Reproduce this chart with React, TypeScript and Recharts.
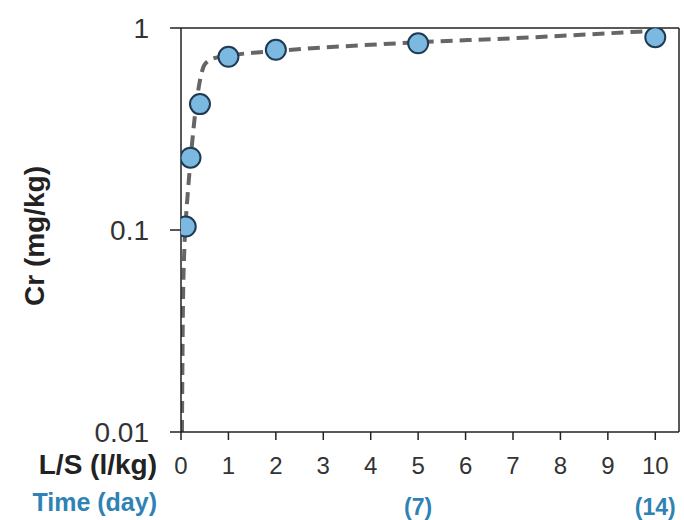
import { ComposedChart, Line, ReferenceLine, Scatter, XAxis, YAxis } from "recharts";

// measured points: L/S ratio (l/kg) vs cumulative Cr release (mg/kg)
const lsPoints = [0.1, 0.2, 0.4, 1, 2, 5, 10];
const crPoints = [0.104, 0.228, 0.42, 0.72, 0.78, 0.84, 0.9];

// fitted (dashed) curve
const lsCurve = [0.02, 0.04, 0.07, 0.1, 0.15, 0.2, 0.3, 0.4, 0.5, 0.7, 1, 2, 3, 5, 7, 10];
const crCurve = [0.01, 0.04, 0.08, 0.11, 0.16, 0.22, 0.38, 0.55, 0.66, 0.71, 0.73, 0.77, 0.8, 0.85, 0.89, 0.97];

const xTicks = [0, 1, 2, 3, 4, 5, 6, 7, 8, 9, 10];
const yTicks = [0.01, 0.1, 1];
const dayAt = [5, 10];
const dayLabels = ["(7)", "(14)"];

const points = lsPoints.map((x, i) => ({ x, y: crPoints[i] }));
const curve = lsCurve.map((x, i) => ({ x, y: crCurve[i] }));

const BLUE = "#2e82b4";
const FONT = "Liberation Sans, Arial, sans-serif";
const X_MAX = 10.5;

const XTick = (props: any) => {
  const { x, y, payload } = props;
  const idx = dayAt.indexOf(payload.value);
  return (
    <g>
      <text x={x} y={y} dy={32} textAnchor="middle" fontSize={24} fill="#333" fontFamily={FONT}>
        {payload.value}
      </text>
      {idx >= 0 && (
        <text x={x} y={y} dy={73} textAnchor="middle" fontSize={23} fontWeight="bold" fill={BLUE} fontFamily={FONT}>
          {dayLabels[idx]}
        </text>
      )}
    </g>
  );
};

const YTick = (props: any) => {
  const { y, payload } = props;
  return (
    <text x={149} y={y} dy={10} textAnchor="end" fontSize={28} fill="#333" fontFamily={FONT}>
      {String(payload.value)}
    </text>
  );
};

const XLabels = (props: any) => {
  const { viewBox } = props;
  const left = viewBox.x;
  const top = viewBox.y;
  return (
    <g>
      <text x={left - 24} y={top + 42} textAnchor="end" fontSize={28} fontWeight="bold" fill="#222" fontFamily={FONT}>
        L/S (l/kg)
      </text>
      <text x={left - 24} y={top + 79} textAnchor="end" fontSize={25} fontWeight="bold" fill={BLUE} fontFamily={FONT}>
        Time (day)
      </text>
    </g>
  );
};

const YLabel = () => (
  <text
    x={44}
    y={236}
    transform="rotate(-90, 44, 236)"
    textAnchor="middle"
    fontSize={28}
    fontWeight="bold"
    fill="#222"
    fontFamily={FONT}
  >
    Cr (mg/kg)
  </text>
);

const Dot = (props: any) => {
  const { cx, cy } = props;
  return <circle cx={cx} cy={cy} r={10} fill="#7cb9e0" stroke="#1f3a52" strokeWidth={2} />;
};

export default function App() {
  return (
    <div style={{ position: "absolute", left: 0, top: 0 }}>
      <ComposedChart width={684} height={520} margin={{ top: 28, right: 5, left: 101, bottom: 48 }}>
        <XAxis
          dataKey="x"
          type="number"
          domain={[0, X_MAX]}
          ticks={xTicks}
          interval={0}
          allowDataOverflow
          stroke="#222"
          strokeWidth={1.5}
          tickSize={8}
          tick={<XTick />}
          height={40}
          label={<XLabels />}
        />
        <YAxis
          dataKey="y"
          scale="log"
          domain={[0.01, 1]}
          ticks={yTicks}
          allowDataOverflow
          width={80}
          stroke="#222"
          strokeWidth={1.5}
          tickSize={11}
          tick={<YTick />}
          label={<YLabel />}
        />
        <ReferenceLine y={1} stroke="#222" strokeWidth={1.5} />
        <ReferenceLine x={X_MAX} stroke="#222" strokeWidth={1.5} />
        <Line
          data={curve}
          dataKey="y"
          type="monotone"
          stroke="#666"
          strokeWidth={4}
          strokeDasharray="12 7"
          dot={false}
          activeDot={false}
          isAnimationActive={false}
        />
        <Scatter data={points} dataKey="y" shape={<Dot />} isAnimationActive={false} />
      </ComposedChart>
    </div>
  );
}
